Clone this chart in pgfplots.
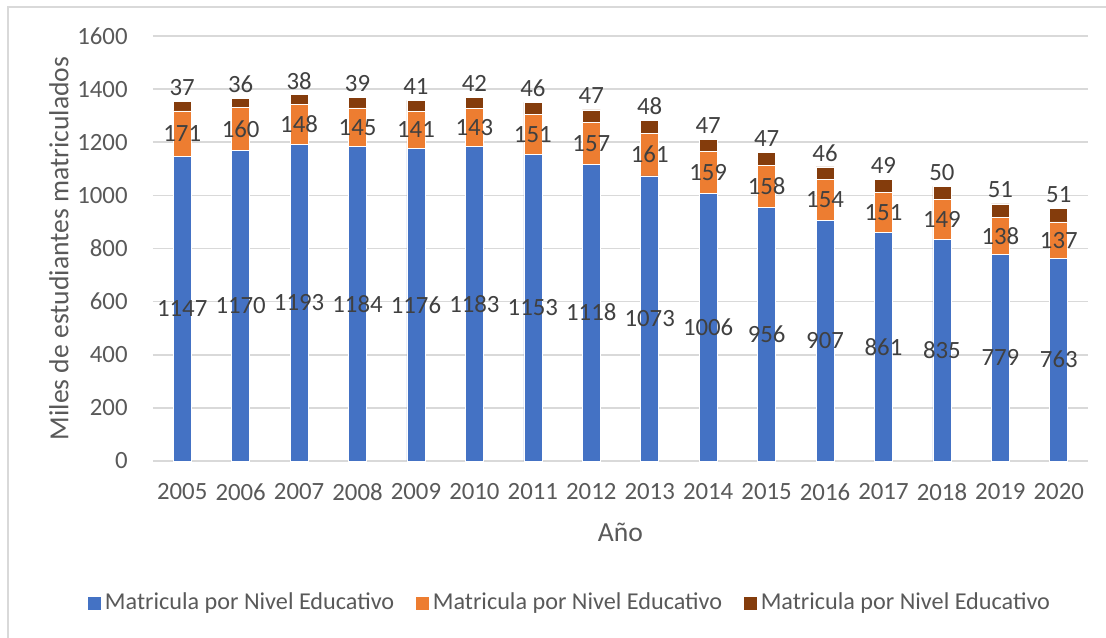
\documentclass[border=0pt]{standalone}
\usepackage{fontspec}
\setmainfont{Carlito}
\usepackage{pgfplots}
\usepackage{pgfplotstable}
\pgfplotsset{compat=1.18}

\definecolor{azul}{HTML}{4472C4}
\definecolor{naranja}{HTML}{ED7D31}
\definecolor{marron}{HTML}{843C0C}
\definecolor{rejilla}{HTML}{D9D9D9}
\definecolor{gristxt}{HTML}{595959}
\definecolor{etiqueta}{HTML}{404040}

% x: posicion del año, b/o/r: las tres series apiladas
\pgfplotstableread{
x b o r
0 1147 171 37
1 1170 160 36
2 1193 148 38
3 1184 145 39
4 1176 141 41
5 1183 143 42
6 1153 151 46
7 1118 157 47
8 1073 161 48
9 1006 159 47
10 956 158 47
11 907 154 46
12 861 151 49
13 835 149 50
14 779 138 51
15 763 137 51
}\datos

\newcommand{\letra}{\fontsize{12.4}{15}\selectfont}
\newcommand{\titulo}{\fontsize{13.8}{16}\selectfont}
\newcommand{\leyenda}{\fontsize{12.1}{15}\selectfont}

\begin{document}
\begin{tikzpicture}[font=\letra]
\useasboundingbox (-76.5pt,-88pt) rectangle (476.5pt,230.5pt);
\draw[rejilla, line width=0.75pt] (-72.5pt,-100pt) -- (-72.5pt,227pt) -- (500pt,227pt);

\begin{axis}[
    scale only axis,
    width=467.5pt, height=212.5pt,
    xmin=-0.5, xmax=15.5,
    ymin=0, ymax=1600,
    ybar stacked, bar width=9pt,
    xtick=data,
    xticklabels={2005,2006,2007,2008,2009,2010,2011,2012,2013,2014,2015,2016,2017,2018,2019,2020},
    ytick={0,200,...,1600},
    /pgf/number format/1000 sep={},
    /pgf/number format/assume math mode=true,
    major tick length=0pt,
    axis line style={draw=none},
    ymajorgrids,
    grid style={rejilla, line width=0.75pt},
    tick label style={font=\letra, text=gristxt},
    yticklabel style={anchor=east, inner sep=0pt, xshift=-12.5pt},
    xticklabel style={anchor=north, inner sep=0pt, yshift=-11pt},
    ylabel={Miles de estudiantes matriculados},
    xlabel={Año},
    every axis y label/.style={at={(rel axis cs:0,0.5)}, xshift=-47pt, rotate=90, anchor=center, font=\titulo, text=gristxt},
    every axis x label/.style={at={(rel axis cs:0.5,0)}, yshift=-35.5pt, anchor=center, font=\titulo, text=gristxt},
    legend style={at={(rel axis cs:0,0)}, anchor=west, xshift=-33pt, yshift=-71pt,
        draw=none, fill=none, font=\leyenda, text=gristxt, inner sep=0pt,
        nodes={inner sep=1.5pt},
        /tikz/every even column/.append style={column sep=9pt}},
    legend columns=3,
    legend image code/.code={\fill[#1] (0pt,-3.5pt) rectangle (7pt,3.5pt);},
]
\addplot[fill=azul, draw=white, line width=0.3pt] table[x=x, y=b]{\datos};
\addplot[fill=naranja, draw=white, line width=0.3pt] table[x=x, y=o]{\datos};
\addplot[fill=marron, draw=white, line width=0.3pt] table[x=x, y=r]{\datos};
\legend{Matricula por Nivel Educativo, Matricula por Nivel Educativo, Matricula por Nivel Educativo}
\end{axis}

% etiquetas de datos
\begin{axis}[
    scale only axis,
    width=467.5pt, height=212.5pt,
    xmin=-0.5, xmax=15.5,
    ymin=0, ymax=1600,
    hide axis, clip=false,
    nodes near coords,
    point meta=explicit symbolic,
    nodes near coords align={anchor=center},
    every node near coord/.append style={font=\letra, text=etiqueta, inner sep=0pt},
]
\addplot[draw=none, mark=none] table[x=x, y expr=\thisrow{b}/2, meta=b]{\datos};
\addplot[draw=none, mark=none] table[x=x, y expr=\thisrow{b}+\thisrow{o}/2, meta=o]{\datos};
\addplot[draw=none, mark=none, every node near coord/.append style={yshift=7pt}]
    table[x=x, y expr=\thisrow{b}+\thisrow{o}+\thisrow{r}, meta=r]{\datos};
\end{axis}
\end{tikzpicture}
\end{document}
